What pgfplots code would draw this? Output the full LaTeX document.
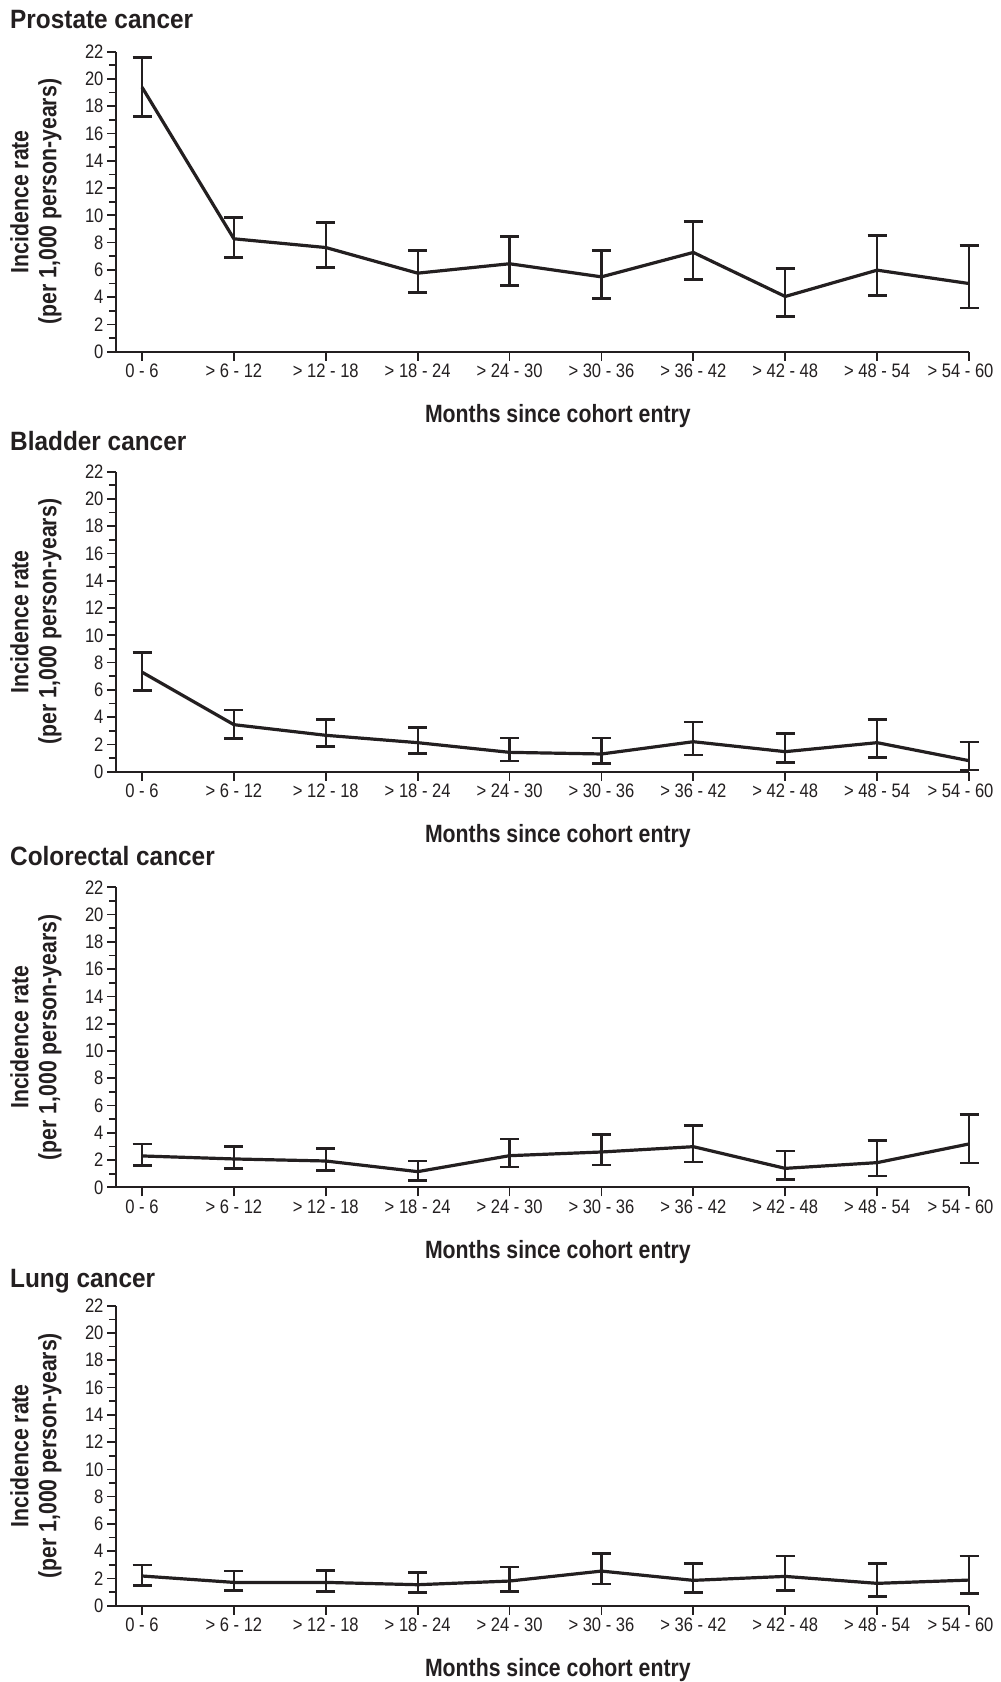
\documentclass[border=0pt]{standalone}
\usepackage{fontspec}
\setmainfont{Liberation Sans}
\newfontfamily\nf[FakeStretch=0.85]{Liberation Sans}
\newfontfamily\tf[FakeStretch=0.92]{Liberation Sans}
\usepackage{pgfplots}
\pgfplotsset{compat=1.18}
\usepackage{pgfplotstable}
\definecolor{ink}{RGB}{35,31,32}

\pgfplotstableread{
x y ep em
0 19.40 2.16 2.14
1 8.28 1.54 1.39
2 7.64 1.83 1.49
3 5.76 1.66 1.39
4 6.45 2.00 1.57
5 5.49 1.93 1.56
6 7.28 2.24 1.96
7 4.05 2.05 1.49
8 5.98 2.52 1.88
9 5.00 2.77 1.80
}\prostate
\pgfplotstableread{
x y ep em
0 7.30 1.42 1.32
1 3.45 1.08 1.00
2 2.67 1.13 0.81
3 2.13 1.10 0.81
4 1.42 1.05 0.64
5 1.30 1.17 0.69
6 2.20 1.45 0.98
7 1.47 1.35 0.81
8 2.13 1.67 1.08
9 0.81 1.37 0.69
}\bladder
\pgfplotstableread{
x y ep em
0 2.30 0.88 0.69
1 2.08 0.90 0.69
2 1.93 0.93 0.68
3 1.15 0.78 0.64
4 2.32 1.23 0.83
5 2.59 1.30 0.95
6 2.98 1.57 1.12
7 1.39 1.28 0.80
8 1.81 1.61 0.98
9 3.18 2.17 1.40
}\colorectal
\pgfplotstableread{
x y ep em
0 2.18 0.80 0.71
1 1.71 0.83 0.61
2 1.71 0.88 0.66
3 1.54 0.90 0.59
4 1.81 1.03 0.76
5 2.54 1.30 0.95
6 1.86 1.22 0.88
7 2.15 1.49 1.03
8 1.64 1.44 0.96
9 1.88 1.76 1.00
}\lung

\pgfplotsset{panel/.style={
  scale only axis, width=853pt, height=300pt,
  anchor=south west, clip=false,
  xmin=-0.283, xmax=9, ymin=0, ymax=22,
  axis x line*=bottom, axis y line*=left,
  axis line style={line width=1.7pt, ink, -},
  xtick={0,...,9},
  xticklabels={0 - 6,> 6 - 12,> 12 - 18,> 18 - 24,> 24 - 30,> 30 - 36,> 36 - 42,> 42 - 48,> 48 - 54,\hspace*{-17pt}> 54 - 60},
  ytick={0,2,...,22}, minor ytick={1,3,...,21},
  tick align=outside, major tick length=9pt, minor tick length=7pt,
  every tick/.style={ink, line width=1.7pt},
  tick label style={font=\nf\fontsize{19.5}{22}\selectfont, text=ink},
  /pgf/number format/assume math mode=true,
  xlabel={Months since cohort entry},
  xlabel style={font=\nf\bfseries\fontsize{25}{28}\selectfont, text=ink, at={(axis description cs:0.518,0)}, anchor=base, yshift=-71pt},
  ylabel={Incidence rate\\(per 1,000 person-years)},
  ylabel style={font=\nf\bfseries\fontsize{25}{28}\selectfont, text=ink, align=center, at={(axis description cs:-0.0938,0.5)}, anchor=center},
}}
\pgfplotsset{ser/.style={ink, line width=3.2pt, mark=none, line join=round,
  error bars/.cd, y dir=both, y explicit,
  error bar style={line width=2.3pt, ink},
  error mark options={ink, line width=2.8pt, mark size=9.5pt, rotate=90}}}

\begin{document}
\begin{tikzpicture}
\useasboundingbox (0,0) rectangle (1001pt,-1682pt);
\begin{axis}[panel, at={(116pt,-351.7pt)}]
\addplot[ser] table[x=x,y=y,y error plus=ep,y error minus=em]{\prostate};
\end{axis}
\begin{axis}[panel, at={(116pt,-771.7pt)}]
\addplot[ser] table[x=x,y=y,y error plus=ep,y error minus=em]{\bladder};
\end{axis}
\begin{axis}[panel, at={(116pt,-1187.3pt)}]
\addplot[ser] table[x=x,y=y,y error plus=ep,y error minus=em]{\colorectal};
\end{axis}
\begin{axis}[panel, at={(116pt,-1605.7pt)}]
\addplot[ser] table[x=x,y=y,y error plus=ep,y error minus=em]{\lung};
\end{axis}
\tikzset{ttl/.style={anchor=base west, inner sep=0pt, text=ink, font=\tf\bfseries\fontsize{26.5}{30}\selectfont}}
\node[ttl] at (10pt,-28pt) {Prostate cancer};
\node[ttl] at (10pt,-450pt) {Bladder cancer};
\node[ttl] at (10pt,-865pt) {Colorectal cancer};
\node[ttl] at (10pt,-1287pt) {Lung cancer};
\end{tikzpicture}
\end{document}
